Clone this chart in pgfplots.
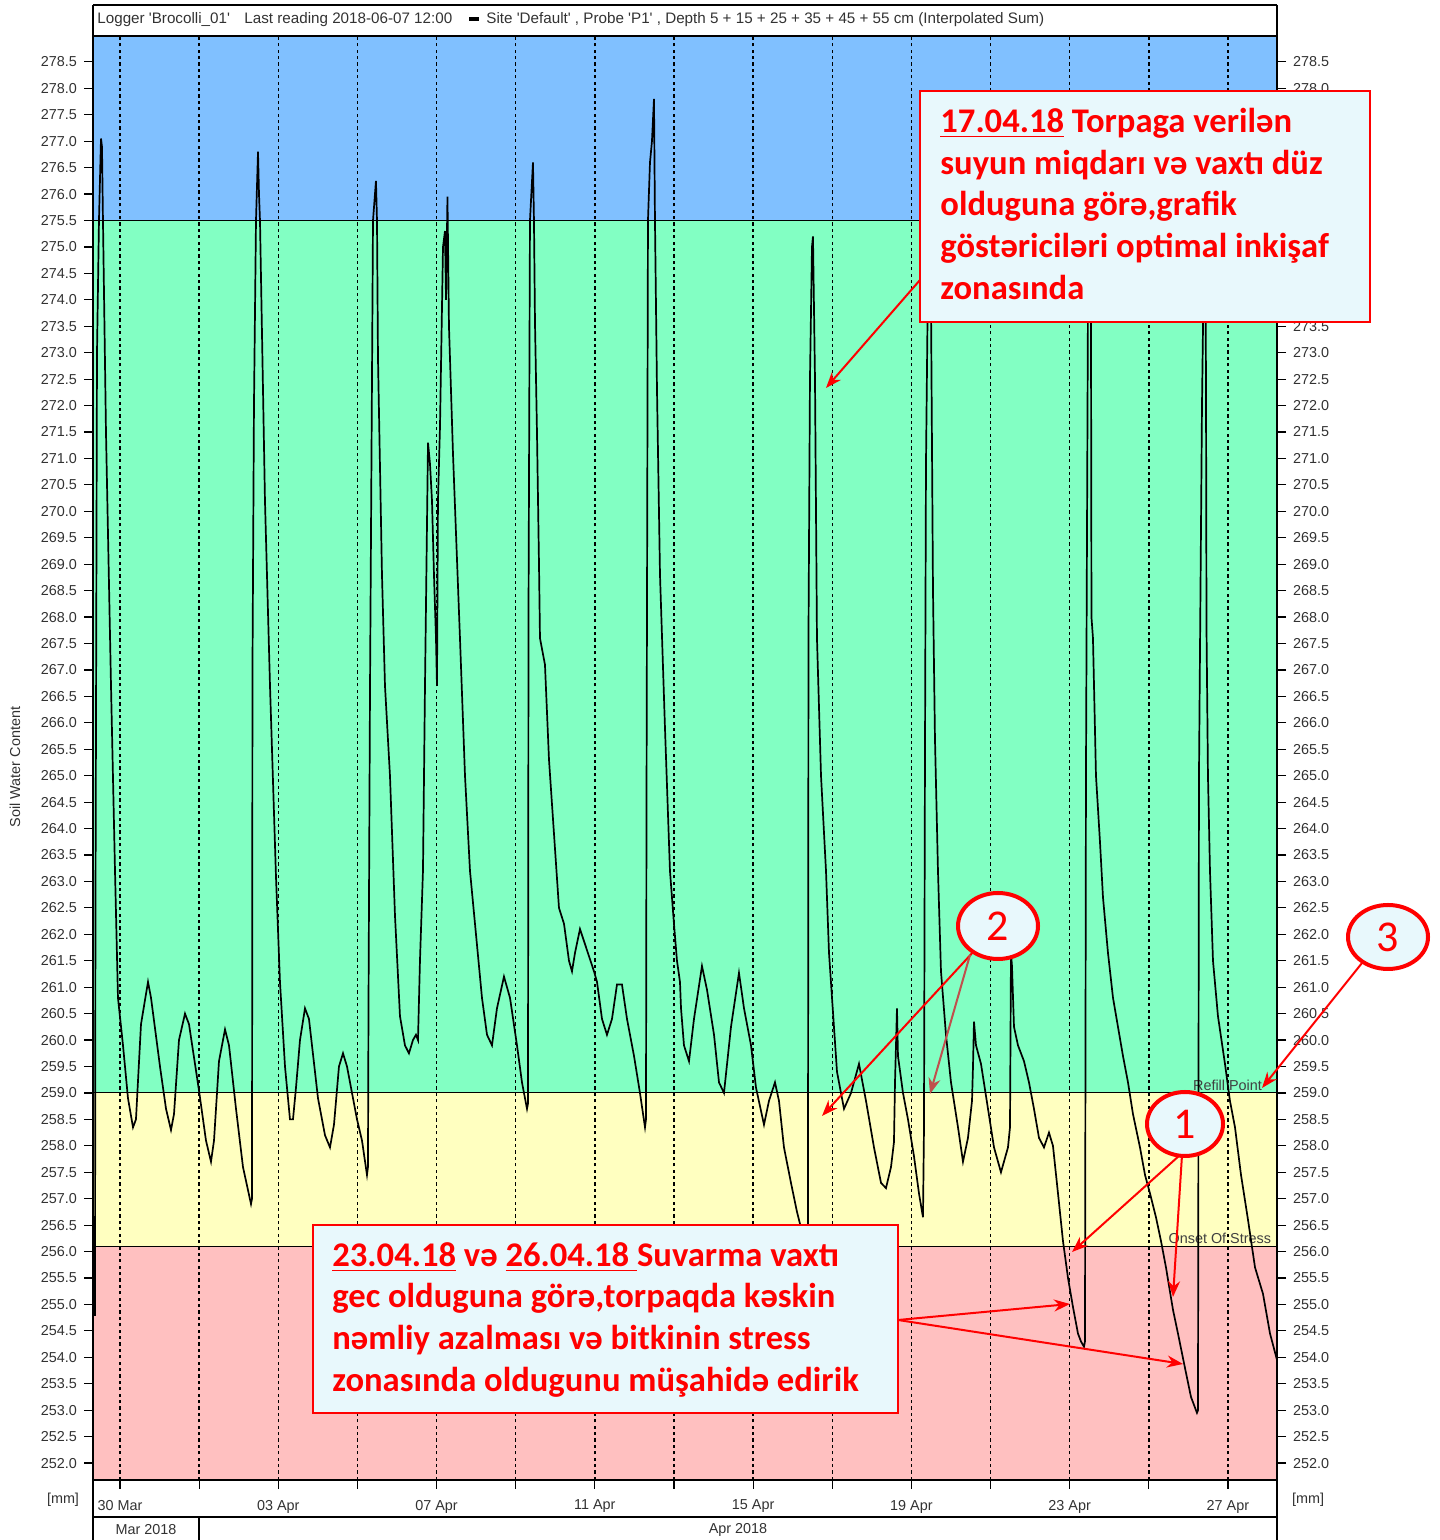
\documentclass[border=0pt]{standalone}
\usepackage{fontspec}
\setmainfont{Liberation Sans}
\newfontfamily\calib{Carlito}
\newfontfamily\hdrfont[Ligatures=TeXOff]{Liberation Sans}
\usepackage{pgfplots}
\usepackage{pgfplotstable}
\pgfplotsset{compat=1.18}
\usetikzlibrary{arrows.meta}
\definecolor{zblue}{RGB}{128,192,255}
\definecolor{zgreen}{RGB}{130,255,195}
\definecolor{zyellow}{RGB}{255,255,192}
\definecolor{zred}{RGB}{255,192,192}
\definecolor{boxfill}{RGB}{232,248,252}
\definecolor{ared}{RGB}{255,0,0}
\definecolor{bred}{RGB}{192,80,77}
\definecolor{lbl}{RGB}{50,50,50}
\pgfplotstableread{
d v
-0.682 254.8
-0.632 254.8
-0.620 262.2
-0.581 273.0
-0.531 275.5
-0.480 277.05
-0.455 276.9
-0.430 275.5
-0.354 271.5
-0.227 266.7
-0.126 263.2
-0.051 260.8
0.076 259.9
0.202 258.9
0.329 258.35
0.404 258.5
0.531 260.3
0.708 261.1
0.784 260.8
1.011 259.5
1.163 258.7
1.289 258.3
1.365 258.6
1.491 260.0
1.643 260.5
1.744 260.3
1.996 259.05
2.173 258.1
2.300 257.7
2.376 258.1
2.502 259.6
2.654 260.2
2.755 259.9
2.932 258.7
3.108 257.6
3.311 256.9
3.336 257.0
3.348 267.0
3.386 272.0
3.437 275.5
3.488 276.8
3.513 276.0
3.538 275.5
3.664 270.2
3.791 266.7
3.942 263.1
4.043 261.1
4.170 259.5
4.296 258.5
4.372 258.5
4.448 259.1
4.549 260.0
4.675 260.6
4.776 260.4
5.004 258.9
5.181 258.2
5.307 257.97
5.408 258.4
5.534 259.5
5.636 259.75
5.737 259.5
5.990 258.5
6.116 258.1
6.242 257.45
6.267 257.6
6.280 260.6
6.318 266.6
6.394 275.5
6.469 276.25
6.495 275.5
6.520 272.9
6.621 268.8
6.697 266.7
6.823 265.0
6.950 262.35
7.076 260.45
7.202 259.9
7.303 259.75
7.404 260.0
7.480 260.1
7.531 260.0
7.581 261.5
7.657 263.2
7.708 266.7
7.784 271.3
7.834 270.9
7.885 270.2
7.935 268.8
7.986 267.6
8.011 266.7
8.036 270.2
8.087 271.6
8.163 275.0
8.213 275.3
8.239 274.0
8.276 275.95
8.314 273.5
8.415 271.1
8.592 267.6
8.719 265.0
8.845 263.2
9.022 261.8
9.148 260.8
9.275 260.1
9.401 259.9
9.527 260.6
9.704 261.2
9.856 260.8
10.033 259.9
10.159 259.2
10.286 258.7
10.311 258.8
10.324 268.1
10.361 275.5
10.437 276.6
10.462 275.5
10.488 273.56
10.538 271.5
10.589 269.0
10.614 267.6
10.740 267.1
10.842 265.3
10.968 263.9
11.094 262.5
11.221 262.2
11.347 261.5
11.423 261.3
11.499 261.65
11.625 262.1
11.802 261.7
11.979 261.3
12.055 261.1
12.181 260.4
12.307 260.1
12.434 260.4
12.560 261.05
12.686 261.05
12.813 260.4
12.990 259.7
13.141 259.0
13.268 258.35
13.293 258.5
13.306 264.5
13.343 275.5
13.394 276.6
13.444 277.0
13.495 277.8
13.520 275.5
13.571 272.3
13.647 268.8
13.773 265.9
13.899 263.2
14.000 262.2
14.076 261.5
14.152 261.1
14.178 260.6
14.253 259.9
14.380 259.6
14.506 260.4
14.708 261.4
14.835 260.95
15.012 260.1
15.138 259.2
15.264 259.0
15.441 260.25
15.643 261.27
15.770 260.6
15.947 259.9
16.073 259.1
16.275 258.4
16.401 258.85
16.553 259.2
16.654 258.85
16.780 257.97
16.957 257.3
17.109 256.75
17.260 256.3
17.361 256.0
17.386 256.1
17.399 267.6
17.437 272.5
17.488 275.0
17.513 275.2
17.564 272.5
17.614 267.6
17.716 265.0
17.842 263.2
17.918 261.65
17.994 260.8
18.120 259.4
18.297 258.7
18.474 259.0
18.676 259.55
18.853 258.85
19.055 257.97
19.232 257.3
19.358 257.2
19.485 257.6
19.560 258.07
19.586 259.2
19.636 260.6
19.661 259.7
19.788 259.0
19.914 258.5
20.066 257.8
20.192 257.1
20.293 256.65
20.318 258.3
20.344 265.5
20.369 270.9
20.420 274.5
20.470 276.2
20.495 274.0
20.546 268.5
20.596 265.7
20.672 263.2
20.748 261.3
20.874 260.1
21.001 259.2
21.178 258.35
21.304 257.7
21.430 258.15
21.532 258.85
21.557 259.5
21.582 260.35
21.633 259.9
21.759 259.55
21.936 258.7
22.088 257.97
22.264 257.5
22.441 257.97
22.492 258.35
22.517 261.65
22.542 261.4
22.593 260.25
22.694 259.9
22.846 259.6
22.972 259.2
23.098 258.7
23.225 258.15
23.351 257.97
23.477 258.25
23.578 258.0
23.705 257.1
23.831 256.2
23.958 255.5
24.084 254.95
24.210 254.45
24.286 254.3
24.362 254.2
24.387 254.3
24.412 265.0
24.463 274.0
24.488 276.3
24.539 273.5
24.551 268.0
24.589 267.6
24.665 265.0
24.766 263.75
24.842 262.7
24.968 261.65
25.095 260.8
25.221 260.25
25.347 259.7
25.474 259.2
25.600 258.6
25.777 257.97
25.904 257.45
26.030 257.1
26.181 256.65
26.308 256.2
26.434 255.7
26.611 254.9
26.737 254.45
26.914 253.8
27.066 253.25
27.217 252.95
27.243 253.0
27.268 265.0
27.344 272.0
27.420 276.4
27.445 272.5
27.458 267.8
27.495 265.0
27.546 263.2
27.622 261.5
27.748 260.45
27.925 259.55
28.051 258.85
28.178 258.35
28.330 257.45
28.507 256.6
28.684 255.7
28.886 255.2
29.063 254.45
29.240 253.95
}\swc
\pgfplotsset{
  commonax/.style={
    at={(46.5pt,30pt)}, anchor=south west,
    width=592pt, height=722pt, scale only axis,
    xmin=-0.682, xmax=29.24, ymin=251.68, ymax=278.99,
    tick align=outside,
    major tick length=4.5pt,
    tick style={black, line width=0.6pt},
    axis line style={line width=0.6pt},
    yticklabel style={font=\fontsize{7.2pt}{8pt}\selectfont, text=lbl,
      /pgf/number format/.cd, fixed, fixed zerofill, precision=1, assume math mode=true},
  }
}
\begin{document}
\begin{tikzpicture}
\begin{axis}[commonax,
  set layers,
  ytick={252,252.5,...,278.6},
  xtick={0,2,...,28},
  xticklabels={30 Mar,,03 Apr,,07 Apr,,11 Apr,,15 Apr,,19 Apr,,23 Apr,,27 Apr},
  xtick pos=bottom,
  xticklabel style={font=\fontsize{7.2pt}{8pt}\selectfont, text=lbl, yshift=-2pt},
  ytick pos=left, yticklabel pos=left,
  xmajorgrids,
  major grid style={black, line width=0.7pt, dash pattern=on 1.6pt off 1.6pt},
]
\begin{pgfonlayer}{axis background}
\fill[zblue] (axis cs:-0.682,275.5) rectangle (axis cs:29.24,278.99);
\fill[zgreen] (axis cs:-0.682,259.0) rectangle (axis cs:29.24,275.5);
\fill[zyellow] (axis cs:-0.682,256.1) rectangle (axis cs:29.24,259.0);
\fill[zred] (axis cs:-0.682,251.68) rectangle (axis cs:29.24,256.1);
\end{pgfonlayer}
\draw[black, line width=0.5pt] (axis cs:-0.682,275.5) -- (axis cs:29.24,275.5);
\draw[black, line width=0.5pt] (axis cs:-0.682,259.0) -- (axis cs:29.24,259.0);
\draw[black, line width=0.5pt] (axis cs:-0.682,256.1) -- (axis cs:29.24,256.1);
\node[anchor=south east, font=\fontsize{7.2pt}{8pt}\selectfont, text=black!75, inner sep=1pt] at (axis cs:28.92,259.0) {Refill Point};
\node[anchor=south east, font=\fontsize{7.2pt}{8pt}\selectfont, text=black!75, inner sep=1pt] at (axis cs:29.15,256.1) {Onset Of Stress};
\addplot[black, line width=0.85pt] table[x=d,y=v]{\swc};
\end{axis}
\begin{axis}[commonax,
  ytick={252,252.5,...,273.6,278,278.5},
  ytick pos=right, yticklabel pos=right,
  xtick=\empty,
]
\addplot[draw=none] coordinates {(0,260) (1,261)};
\end{axis}
\begin{scope}[shift={(0pt,770pt)}, x=0.5pt, y=-0.5pt]
% frame pieces
\draw[line width=0.6pt] (93,5) -- (1277,5);
\draw[line width=0.6pt] (93,5) -- (93,36);
\draw[line width=0.6pt] (1277,5) -- (1277,36);
\draw[line width=0.6pt] (93,1480) -- (93,1540);
\draw[line width=0.6pt] (1277,1480) -- (1277,1540);
\draw[line width=0.6pt] (93,1517) -- (1277,1517);
\draw[line width=0.6pt] (199,1517) -- (199,1540);
\begin{scope}[every node/.style={anchor=west, inner sep=0, font=\hdrfont\fontsize{7.6pt}{9pt}\selectfont, text=lbl}]
\node at (97,20) {Logger 'Brocolli\_01'};
\node at (244,20) {Last reading 2018-06-07 12:00};
\node at (486,20) {Site 'Default' , Probe 'P1' , Depth 5 + 15 + 25 + 35 + 45 + 55 cm (Interpolated Sum)};
\end{scope}
\fill[black] (469,17) rectangle (479,21);
\node[font=\fontsize{7.2pt}{8pt}\selectfont, text=lbl] at (146,1530) {Mar 2018};
\node[font=\fontsize{7.2pt}{8pt}\selectfont, text=lbl] at (738,1530) {Apr 2018};
\node[font=\fontsize{7.2pt}{8pt}\selectfont, text=lbl] at (63,1500) {[mm]};
\node[font=\fontsize{7.2pt}{8pt}\selectfont, text=lbl] at (1308,1500) {[mm]};
\node[rotate=90, font=\fontsize{7.2pt}{8pt}\selectfont, text=lbl] at (15,767) {Soil Water Content};
% box 1
\draw[ared, line width=1pt, fill=boxfill] (920,91) rectangle (1370,322);
\begin{scope}[every node/.style={anchor=base west, inner sep=0, text=ared, font=\calib\bfseries\fontsize{17.3pt}{20pt}\selectfont}]
\node at (940,133) {\underline{17.04.18} Torpaga verilən};
\node at (940,175) {suyun miqdarı və vaxtı düz};
\node at (940,216) {olduguna görə,grafik};
\node at (940,258) {göstəriciləri optimal inkişaf};
\node at (940,300) {zonasında};
\end{scope}
\draw[ared, line width=1pt, -{Stealth[length=8pt,width=6pt]}] (920,280) -- (826,388);
% box 2
\draw[ared, line width=1pt, fill=boxfill] (313,1225) rectangle (898,1413);
\begin{scope}[every node/.style={anchor=base west, inner sep=0, text=ared, font=\calib\bfseries\fontsize{17.3pt}{20pt}\selectfont}]
\node at (332,1267) {\underline{23.04.18} və \underline{26.04.18 }Suvarma vaxtı};
\node at (332,1308) {gec olduguna görə,torpaqda kəskin};
\node at (332,1350) {nəmliy azalması və bitkinin stress};
\node at (332,1392) {zonasında oldugunu müşahidə edirik};
\end{scope}
\draw[ared, line width=1pt, -{Stealth[length=8pt,width=6pt]}] (898,1320) -- (1070,1304);
\draw[ared, line width=1pt, -{Stealth[length=8pt,width=6pt]}] (898,1320) -- (1183,1364);
% circle 2
\draw[ared, line width=1pt, -{Stealth[length=8pt,width=6pt]}] (975,950) -- (822,1116);
\draw[bred, line width=1pt, -{Stealth[length=8pt,width=6pt]}] (970,955) -- (930,1094);
\draw[ared, line width=2pt, fill=boxfill] (998,926) ellipse [x radius=20pt, y radius=16.5pt];
\node[text=ared, font=\calib\fontsize{22pt}{26pt}\selectfont] at (998,926) {2};
% circle 1
\draw[ared, line width=1pt, -{Stealth[length=8pt,width=6pt]}] (1180,1155) -- (1072,1252);
\draw[ared, line width=1pt, -{Stealth[length=8pt,width=6pt]}] (1182,1155) -- (1173,1297);
\draw[ared, line width=2pt, fill=boxfill] (1185,1124) ellipse [x radius=19pt, y radius=16pt];
\node[text=ared, font=\calib\fontsize{22pt}{26pt}\selectfont] at (1185,1124) {1};
% circle 3
\draw[ared, line width=1pt, -{Stealth[length=8pt,width=6pt]}] (1362,963) -- (1262,1088);
\draw[ared, line width=2pt, fill=boxfill] (1388,937) ellipse [x radius=20pt, y radius=16pt];
\node[text=ared, font=\calib\fontsize{22pt}{26pt}\selectfont] at (1388,937) {3};
\end{scope}
\pgfresetboundingbox
\useasboundingbox (0,0) rectangle (719.5pt,770pt);
\end{tikzpicture}
\end{document}
